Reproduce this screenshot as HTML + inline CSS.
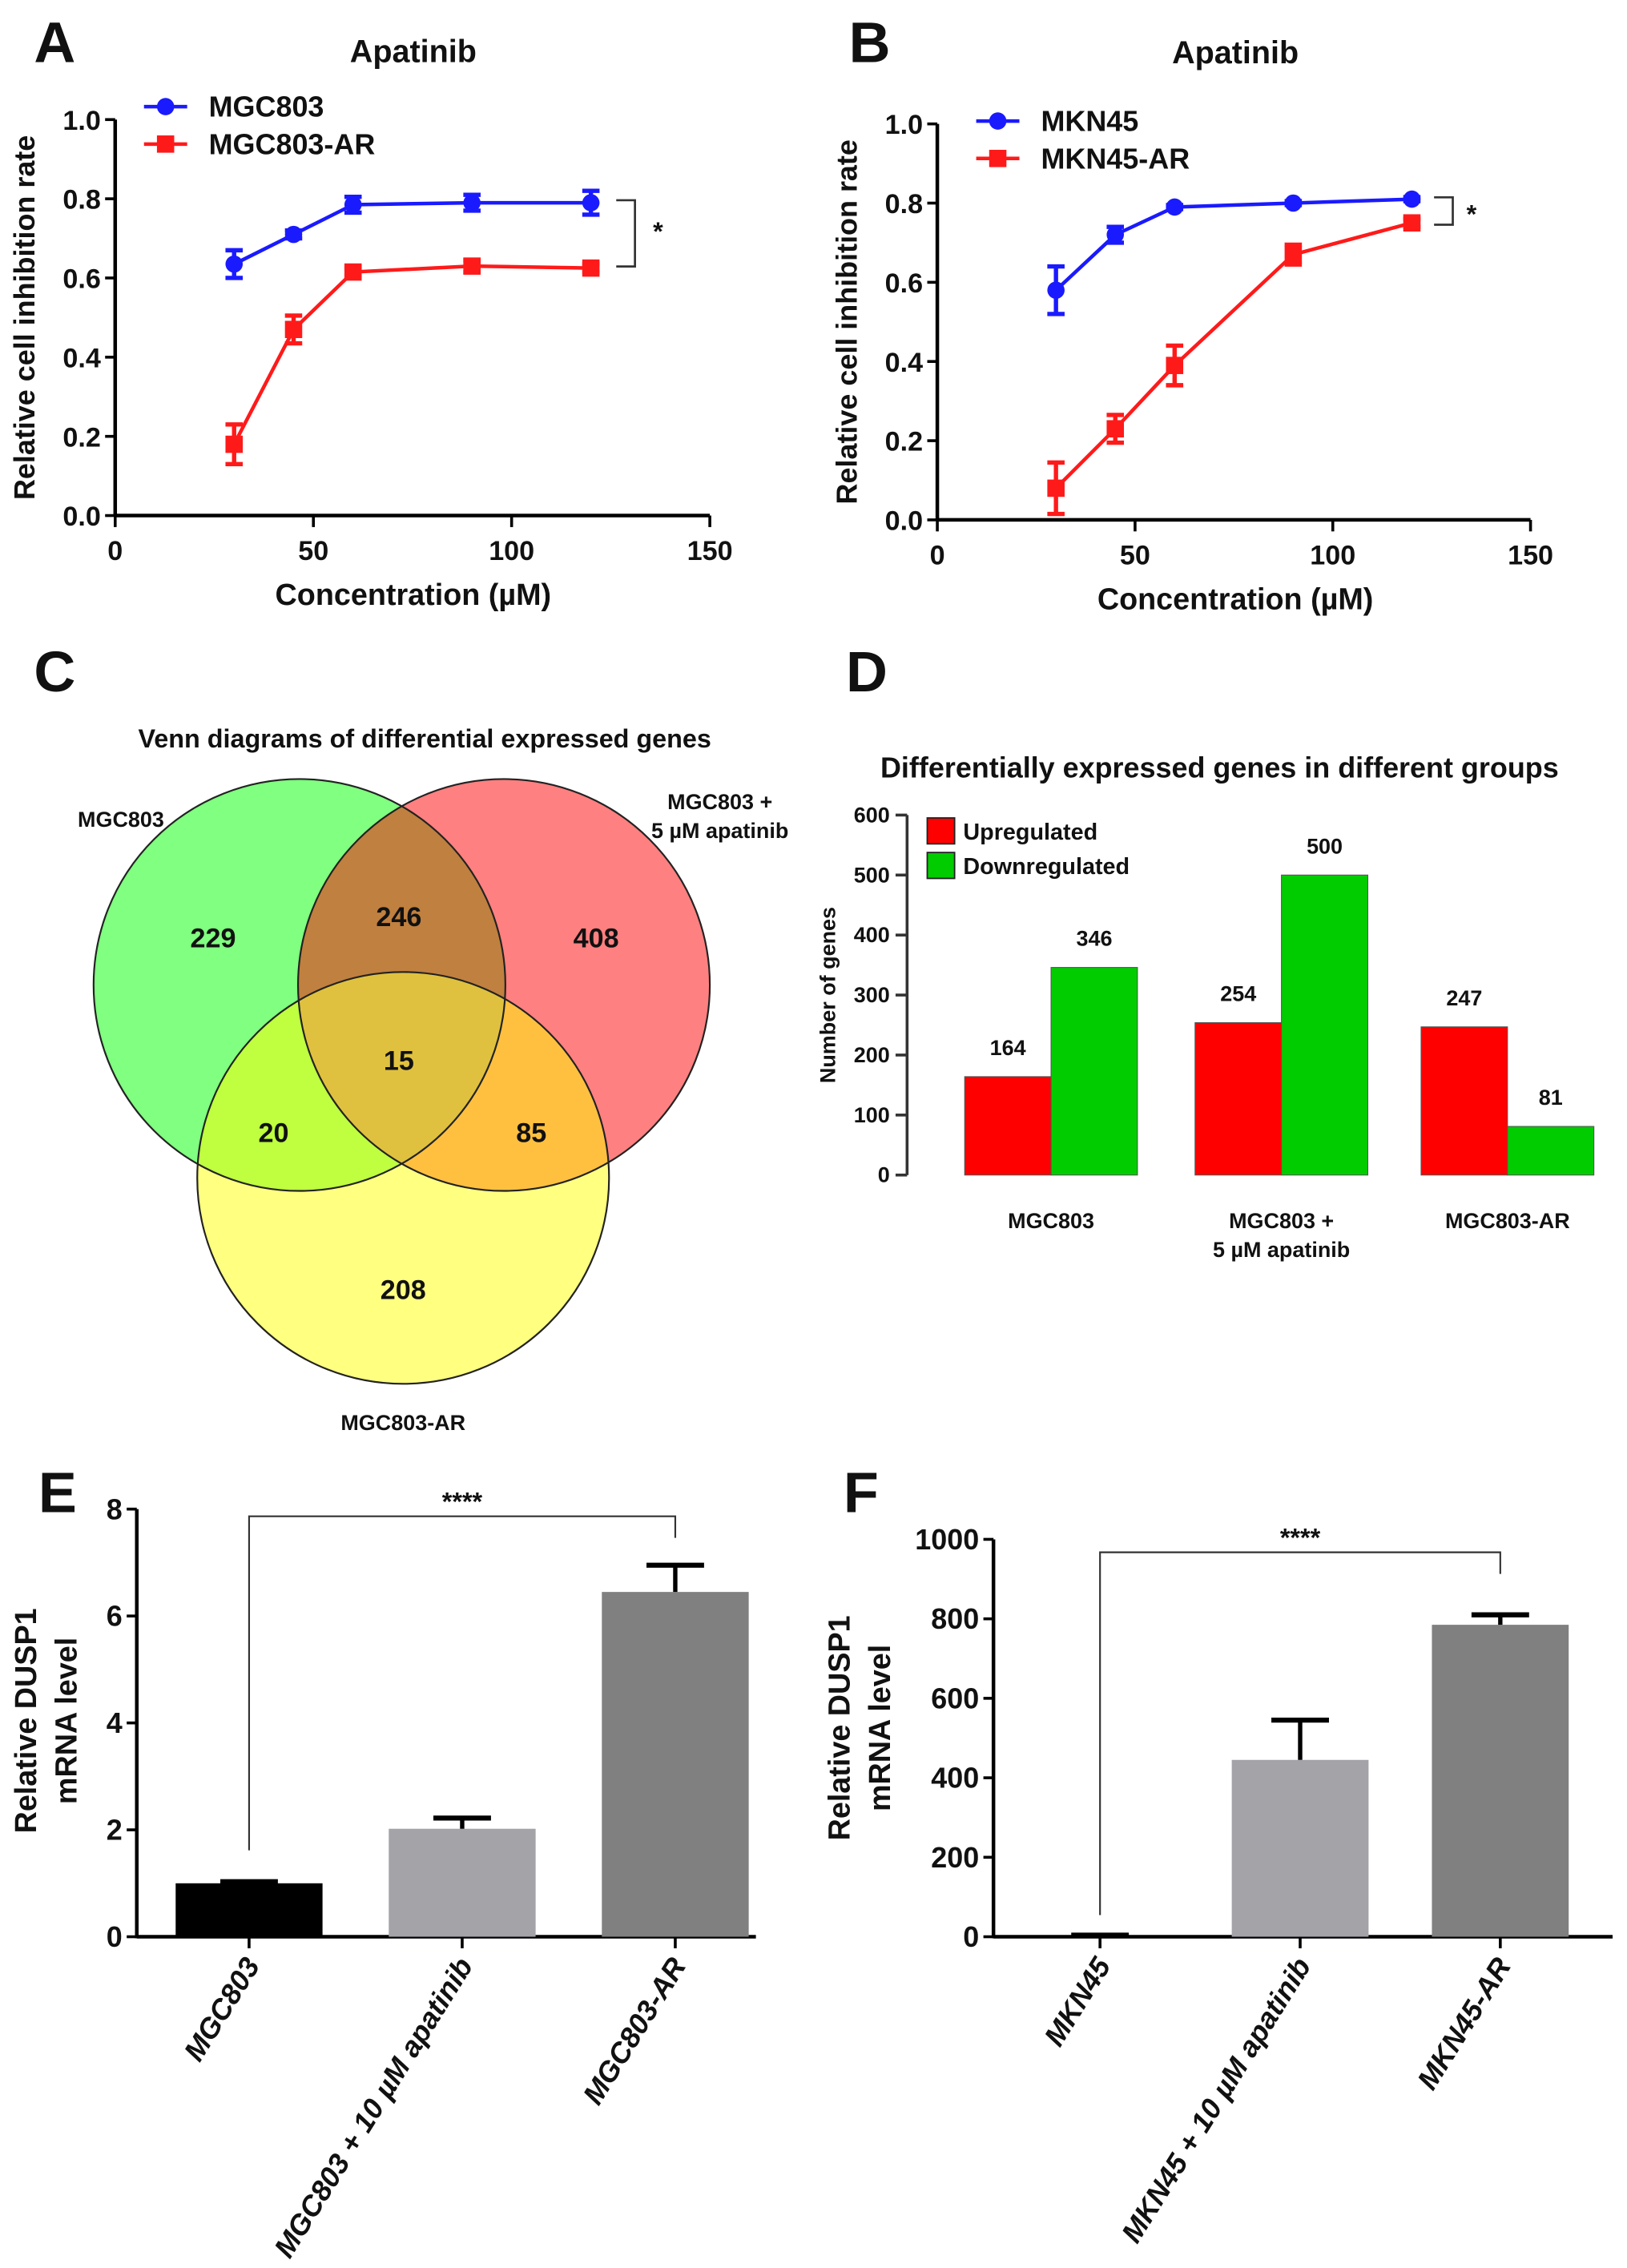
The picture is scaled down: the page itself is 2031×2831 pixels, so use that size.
<!DOCTYPE html>
<html><head><meta charset="utf-8"><style>
html,body{margin:0;padding:0;background:#fff}
svg{display:block;font-family:"Liberation Sans",Arial,sans-serif}
text{font-weight:bold}
</style></head><body>
<svg id="fig" width="2031" height="2831" viewBox="0 0 1130 1575" xmlns="http://www.w3.org/2000/svg">
<defs>
<clipPath id="cg"><circle cx="208" cy="684" r="143"/></clipPath>
<clipPath id="cr"><circle cx="350" cy="684" r="143"/></clipPath>
<clipPath id="cgr" clip-path="url(#cg)"><circle cx="350" cy="684" r="143"/></clipPath>
</defs>
<g id="root"></g>
</svg>
<script>
// ---- Panel A data ----
const aX = [30, 45, 60, 90, 120];
const aMGC = [0.635, 0.71, 0.785, 0.79, 0.79];
const aMGCerr = [0.035, 0.01, 0.02, 0.02, 0.03];
const aAR = [0.18, 0.47, 0.615, 0.63, 0.625];
const aARerr = [0.05, 0.035, 0.01, 0.015, 0.01];
// ---- Panel B data ----
const bX = [30, 45, 60, 90, 120];
const bMKN = [0.58, 0.72, 0.79, 0.80, 0.81];
const bMKNerr = [0.06, 0.02, 0.005, 0.005, 0.005];
const bAR = [0.08, 0.23, 0.39, 0.67, 0.75];
const bARerr = [0.065, 0.035, 0.05, 0.025, 0.01];
const xTicks = [0, 50, 100, 150];
const yTicksAB = [0, 0.2, 0.4, 0.6, 0.8, 1.0];
// ---- Panel D data ----
const dCats = [["MGC803"], ["MGC803 +", "5 µM apatinib"], ["MGC803-AR"]];
const dUp = [164, 254, 247];
const dDown = [346, 500, 81];
const dTicks = [0, 100, 200, 300, 400, 500, 600];
// ---- Panel E data ----
const eCats = ["MGC803", "MGC803 + 10 µM apatinib", "MGC803-AR"];
const eVals = [1.0, 2.02, 6.45];
const eErr = [0.03, 0.2, 0.5];
const eTicks = [0, 2, 4, 6, 8];
// ---- Panel F data ----
const fCats = ["MKN45", "MKN45 + 10 µM apatinib", "MKN45-AR"];
const fVals = [3, 445, 785];
const fErr = [1, 100, 25];
const fTicks = [0, 200, 400, 600, 800, 1000];

const NS = "http://www.w3.org/2000/svg";
const root = document.getElementById("root");
function mk(tag, attrs, parent, txt) {
  const e = document.createElementNS(NS, tag);
  for (const k in attrs) e.setAttribute(k, attrs[k]);
  if (txt !== undefined) e.textContent = txt;
  (parent || root).appendChild(e);
  return e;
}
function T(x, y, s, size, opts, name) {
  const a = Object.assign({x: x, y: y, "font-size": size, "text-anchor": "middle", fill: "#111"}, opts || {});
  const e = mk("text", a, null, s);
  
  
  return e;
}
function L(x1, y1, x2, y2, w, c, name) {
  const e = mk("line", {x1, y1, x2, y2, stroke: c || "#000", "stroke-width": w || 2});
  
  
  return e;
}

// ===== Line panels A & B =====
function linePanel(p) {
  const sx = v => p.x0 + (v / 150) * (p.x1 - p.x0);
  const sy = v => p.y0 - v * (p.y0 - p.y1);
  T(p.lx, 43, p.letter, 40, {}, 'panel-letter');
  T(p.tx, p.ty, "Apatinib", 22, {}, 'chart-title');
  L(p.x0, p.y0, p.x1, p.y0, 2.5, "#000", 'x-axis');
  L(p.x0, p.y1, p.x0, p.y0, 2.5, "#000", 'y-axis');
  xTicks.forEach(v => {
    L(sx(v), p.y0, sx(v), p.y0 + 8, 2, "#000", 'x-tick');
    T(sx(v), p.y0 + 31, String(v), 19, {}, 'x-tick-label');
  });
  yTicksAB.forEach(v => {
    L(p.x0 - 7, sy(v), p.x0, sy(v), 2, "#000", 'y-tick');
    T(p.x0 - 10, sy(v) + 7, v.toFixed(1), 19, {"text-anchor": "end"}, 'y-tick-label');
  });
  T(p.x0 + 207, p.y0 + 62, "Concentration (µM)", 21, {}, 'x-axis-title');
  T(0, 0, "Relative cell inhibition rate", 20, {transform: `translate(${p.x0 - 56},${(p.y0 + p.y1) / 2}) rotate(-90)`}, 'y-axis-title');
  p.series.forEach((s, si) => {
    const pts = s.vals.map((v, i) => sx(p.xs[i]) + "," + sy(v)).join(" ");
    const pl = mk("polyline", {points: pts, fill: "none", stroke: s.c, "stroke-width": 2.5});
    
    
    s.vals.forEach((v, i) => {
      const cx = sx(p.xs[i]), e = s.err[i];
      L(cx, sy(v + e), cx, sy(v - e), 3, s.c, 'error-bar');
      L(cx - 6, sy(v + e), cx + 6, sy(v + e), 3, s.c, 'error-cap');
      L(cx - 6, sy(v - e), cx + 6, sy(v - e), 3, s.c, 'error-cap');
      let m;
      if (s.shape === "c") m = mk("circle", {cx, cy: sy(v), r: 6, fill: s.c});
      else m = mk("rect", {x: cx - 6, y: sy(v) - 6, width: 12, height: 12, fill: s.c});
      
      
    });
    const ly = p.legY + si * 26;
    L(p.legX, ly, p.legX + 30, ly, 2.5, s.c, 'legend-line');
    let lm;
    if (s.shape === "c") lm = mk("circle", {cx: p.legX + 15, cy: ly, r: 6, fill: s.c});
    else lm = mk("rect", {x: p.legX + 9, y: ly - 6, width: 12, height: 12, fill: s.c});
    
    
    T(p.legX + 45, ly + 7, s.name, 20, {"text-anchor": "start"}, 'legend-entry');
  });
  const b = mk("polyline", {points: p.br, fill: "none", stroke: "#333", "stroke-width": 1.5});
  
  
  T(p.star[0], p.star[1], "*", 18, {"font-weight": "normal"}, 'significance-star');
}
linePanel({letter: "A", lx: 38, tx: 287, ty: 43, x0: 80, x1: 493, y0: 358, y1: 83, xs: aX, legX: 100, legY: 74,
  series: [{name: "MGC803", vals: aMGC, err: aMGCerr, c: "#1a1aff", shape: "c"}, {name: "MGC803-AR", vals: aAR, err: aARerr, c: "#ff1a1a", shape: "s"}],
  br: "428,139 441,139 441,185 428,185", star: [457, 167]});
linePanel({letter: "B", lx: 604, tx: 858, ty: 44, x0: 651, x1: 1063, y0: 361, y1: 86, xs: bX, legX: 678, legY: 84,
  series: [{name: "MKN45", vals: bMKN, err: bMKNerr, c: "#1a1aff", shape: "c"}, {name: "MKN45-AR", vals: bAR, err: bARerr, c: "#ff1a1a", shape: "s"}],
  br: "996,137 1009,137 1009,156 996,156", star: [1022, 155]});

// ===== Panel C Venn =====
T(38, 480, "C", 40, {}, 'panel-letter');
T(295, 519, "Venn diagrams of differential expressed genes", 18, {}, 'venn-title');
[["#80ff80", 208, 684, null, 'venn-circle-mgc803'], ["#ff8080", 350, 684, null, 'venn-circle-apatinib'], ["#ffff80", 280, 818, null, 'venn-circle-ar'],
 ["#c0803f", 350, 684, "url(#cg)", 'venn-overlap-green-red'], ["#bfff40", 280, 818, "url(#cg)", 'venn-overlap-green-yellow'],
 ["#ffc040", 280, 818, "url(#cr)", 'venn-overlap-red-yellow'], ["#dfc13f", 280, 818, "url(#cgr)", 'venn-overlap-all']].forEach(d => {
  const a = {cx: d[1], cy: d[2], r: 143, fill: d[0]};
  if (d[3]) a["clip-path"] = d[3];
  const c = mk("circle", a);
  
  
});
[[208, 684], [350, 684], [280, 818]].forEach(c => {
  const e = mk("circle", {cx: c[0], cy: c[1], r: 143, fill: "none", stroke: "#222", "stroke-width": 1.2});
  
  
});
[["229", 148, 658], ["246", 277, 643], ["408", 414, 658], ["15", 277, 743], ["20", 190, 793], ["85", 369, 793], ["208", 280, 902]].forEach(n => T(n[1], n[2], n[0], 19, {}, 'venn-count'));
T(84, 574, "MGC803", 15, {}, 'venn-set-label');
T(500, 562, "MGC803 +", 15, {}, 'venn-set-label');
T(500, 582, "5 µM apatinib", 15, {}, 'venn-set-label');
T(280, 993, "MGC803-AR", 15, {}, 'venn-set-label');

// ===== Panel D grouped bars =====
(function () {
  const x0 = 630, y0 = 816, y1 = 566, max = 600;
  const sy = v => y0 - v / max * (y0 - y1);
  const gx = [670, 830, 987], bw = 60;
  T(602, 480, "D", 40, {}, 'panel-letter');
  T(847, 540, "Differentially expressed genes in different groups", 20, {}, 'chart-title');
  L(x0, y1, x0, y0, 2, "#333", 'y-axis');
  dTicks.forEach(v => {
    L(x0 - 8, sy(v), x0, sy(v), 2, "#333", 'y-tick');
    T(x0 - 12, sy(v) + 5, String(v), 15, {"text-anchor": "end"}, 'y-tick-label');
  });
  T(0, 0, "Number of genes", 15, {transform: `translate(580,691) rotate(-90)`}, 'y-axis-title');
  dCats.forEach((c, i) => {
    const u = mk("rect", {x: gx[i], y: sy(dUp[i]), width: bw, height: y0 - sy(dUp[i]), fill: "#ff0000", stroke: "#555", "stroke-width": 0.6});
    
    
    const d = mk("rect", {x: gx[i] + bw, y: sy(dDown[i]), width: bw, height: y0 - sy(dDown[i]), fill: "#00cc00", stroke: "#555", "stroke-width": 0.6});
    
    
    T(gx[i] + bw / 2, sy(dUp[i]) - 15, String(dUp[i]), 15, {}, 'bar-value');
    T(gx[i] + bw * 1.5, sy(dDown[i]) - 15, String(dDown[i]), 15, {}, 'bar-value');
    c.forEach((ln, j) => T(gx[i] + bw, 853 + j * 20, ln, 15, {}, 'x-tick-label'));
  });
  [["#ff0000", "Upregulated", 577], ["#00cc00", "Downregulated", 601]].forEach(l => {
    const r = mk("rect", {x: 644, y: l[2] - 9, width: 19, height: 18, fill: l[0], stroke: "#222", "stroke-width": 1});
    
    
    T(669, l[2] + 6, l[1], 16, {"text-anchor": "start"}, 'legend-entry');
  });
})();

// ===== Panels E & F =====
function barPanel(p) {
  const sy = v => p.y0 - v / p.max * (p.y0 - p.y1);
  T(p.lx, 1050, p.letter, 40, {}, 'panel-letter');
  L(p.x0, p.y1, p.x0, p.y0 + 1, 2.5, "#000", 'y-axis');
  L(p.x0, p.y0, p.x0 + 430, p.y0, 2.5, "#000", 'x-axis');
  p.ticks.forEach(v => {
    L(p.x0 - 7, sy(v), p.x0, sy(v), 2, "#000", 'y-tick');
    T(p.x0 - 10, sy(v) + 7, String(v), 20, {"text-anchor": "end"}, 'y-tick-label');
  });
  T(0, 0, "Relative DUSP1", 21, {transform: `translate(${p.x0 - p.lab},${p.ymid}) rotate(-90)`}, 'y-axis-title');
  T(0, 0, "mRNA level", 21, {transform: `translate(${p.x0 - p.lab + 28},${p.ymid}) rotate(-90)`}, 'y-axis-title');
  p.cats.forEach((c, i) => {
    const cx = p.cx[i], e = p.err[i];
    const r = mk("rect", {x: cx - p.bw / 2, y: sy(p.vals[i]), width: p.bw, height: p.y0 - sy(p.vals[i]), fill: p.cols[i]});
    
    
    L(cx, sy(p.vals[i]), cx, sy(p.vals[i] + e), 3, "#000", 'error-bar');
    L(cx - 20, sy(p.vals[i] + e), cx + 20, sy(p.vals[i] + e), 3.5, "#000", 'error-cap');
    L(cx, p.y0, cx, p.y0 + 8, 2, "#000", 'x-tick');
    T(0, 0, c, 20, {"text-anchor": "end", "font-style": "italic", transform: `translate(${cx + 8},${p.y0 + 20}) rotate(-58)`}, 'x-tick-label');
  });
  const b = mk("polyline", {points: `${p.cx[0]},${p.brL} ${p.cx[0]},${p.brY} ${p.cx[2]},${p.brY} ${p.cx[2]},${p.brR}`, fill: "none", stroke: "#333", "stroke-width": 1.2});
  
  
  T((p.cx[0] + p.cx[2]) / 2, p.brY - 4, "****", 18, {"font-weight": "normal"}, 'significance-stars');
}
barPanel({letter: "E", lx: 40, x0: 95, lab: 70, y0: 1345, y1: 1048, max: 8, ticks: eTicks, ymid: 1195, cats: eCats, vals: eVals, err: eErr,
  cx: [173, 321, 469], bw: 102, cols: ["#000000", "#a3a3a8", "#808080"], brY: 1053, brL: 1285, brR: 1068});
barPanel({letter: "F", lx: 598, x0: 690, lab: 100, y0: 1345, y1: 1069, max: 1000, ticks: fTicks, ymid: 1200, cats: fCats, vals: fVals, err: fErr,
  cx: [764, 903, 1042], bw: 95, cols: ["#000000", "#a3a3a8", "#808080"], brY: 1078, brL: 1330, brR: 1093});
</script>
</body></html>
